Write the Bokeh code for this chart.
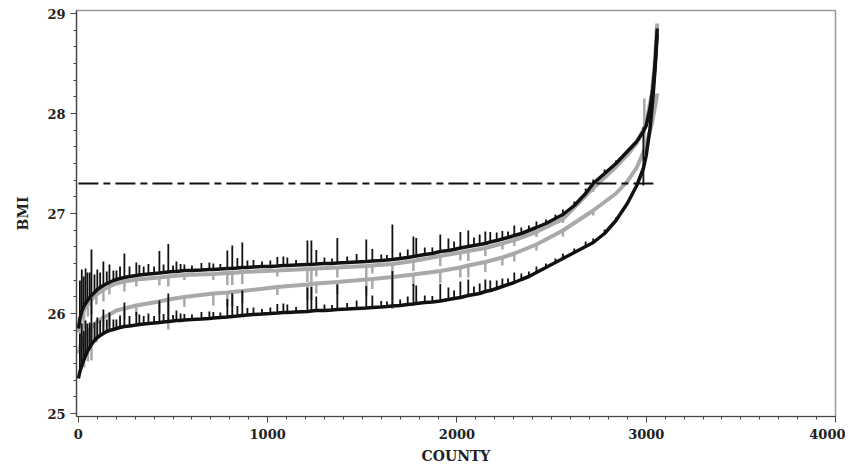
import numpy as np
from bokeh.plotting import figure
from bokeh.models import Range1d, FixedTicker
from bokeh.embed import file_html
from bokeh.resources import INLINE

# ---------------- data ----------------
county = [0, 8, 18, 28, 38, 48, 60, 69, 85, 100, 115, 132, 150, 164, 185, 201, 220, 243, 270, 306,
          322, 345, 370, 400, 428, 450, 475, 500, 518, 540, 560, 600, 650, 692, 713, 750, 787, 813, 840, 866,
          893, 925, 970, 1014, 1051, 1083, 1104, 1150, 1210, 1231, 1257, 1300, 1340, 1368, 1420, 1470, 1521, 1553, 1600, 1630,
          1659, 1700, 1740, 1770, 1785, 1830, 1870, 1912, 1955, 1985, 2018, 2060, 2090, 2120, 2150, 2176, 2210, 2240, 2270, 2303,
          2340, 2380, 2420, 2470, 2520, 2560, 2620, 2680, 2720, 2780, 2840, 2900, 2950, 2985, 3000, 3020, 3035, 3045, 3052, 3058]
upper_base = [25.85, 25.95, 26.02, 26.07, 26.10, 26.13, 26.16, 26.18, 26.21, 26.24, 26.26, 26.28, 26.30, 26.31, 26.33, 26.34, 26.35, 26.36, 26.37, 26.38,
              26.385, 26.39, 26.395, 26.40, 26.405, 26.41, 26.415, 26.42, 26.42, 26.425, 26.43, 26.43, 26.435, 26.44, 26.44, 26.445, 26.45, 26.45, 26.455, 26.46,
              26.46, 26.465, 26.47, 26.47, 26.475, 26.48, 26.48, 26.485, 26.49, 26.49, 26.495, 26.50, 26.50, 26.505, 26.51, 26.515, 26.52, 26.525, 26.53, 26.535,
              26.54, 26.55, 26.56, 26.57, 26.575, 26.59, 26.60, 26.62, 26.63, 26.64, 26.655, 26.67, 26.68, 26.69, 26.70, 26.715, 26.73, 26.745, 26.76, 26.78,
              26.80, 26.83, 26.86, 26.90, 26.95, 26.99, 27.08, 27.20, 27.30, 27.40, 27.50, 27.62, 27.72, 27.82, 27.88, 28.05, 28.25, 28.45, 28.65, 28.85]
lower_base = [25.35, 25.42, 25.48, 25.53, 25.58, 25.62, 25.66, 25.69, 25.73, 25.76, 25.78, 25.80, 25.82, 25.83, 25.84, 25.85, 25.86, 25.87, 25.875, 25.885,
              25.89, 25.895, 25.90, 25.905, 25.91, 25.915, 25.92, 25.925, 25.93, 25.93, 25.935, 25.94, 25.945, 25.95, 25.955, 25.96, 25.965, 25.97, 25.975, 25.98,
              25.985, 25.99, 25.995, 26.00, 26.005, 26.01, 26.01, 26.015, 26.02, 26.025, 26.03, 26.03, 26.035, 26.04, 26.045, 26.05, 26.055, 26.06, 26.065, 26.07,
              26.075, 26.08, 26.09, 26.095, 26.10, 26.11, 26.115, 26.125, 26.14, 26.15, 26.16, 26.18, 26.19, 26.20, 26.22, 26.23, 26.25, 26.27, 26.29, 26.31,
              26.34, 26.37, 26.41, 26.46, 26.51, 26.55, 26.61, 26.67, 26.71, 26.80, 26.93, 27.10, 27.28, 27.45, 27.58, 27.85, 28.15, 28.40, 28.60, 28.80]
black_rise = [0, 0.38, 0.42, 0.30, 0.35, 0.28, 0.25, 0.46, 0.18, 0.20, 0.15, 0.24, 0.12, 0.18, 0.10, 0.09, 0.12, 0.24, 0.10, 0.13,
              0.10, 0.08, 0.10, 0.07, 0.22, 0.08, 0.28, 0.06, 0.10, 0.07, 0.06, 0.05, 0.07, 0.07, 0.06, 0.05, 0.18, 0.23, 0.10, 0.25,
              0.07, 0.07, 0.05, 0.06, 0.09, 0.09, 0.08, 0.05, 0.24, 0.24, 0.14, 0.06, 0.05, 0.25, 0.06, 0.08, 0.22, 0.12, 0.06, 0.05,
              0.35, 0.06, 0.08, 0.20, 0.18, 0.07, 0.06, 0.17, 0.12, 0.08, 0.16, 0.16, 0.08, 0.10, 0.12, 0.10, 0.08, 0.08, 0.06, 0.10,
              0.06, 0.05, 0.06, 0.04, 0.04, 0.05, 0.04, 0.05, 0.04, 0.04, 0.03, 0, 0, 0, 0, 0, 0, 0, 0, 0]

grey_county = [0, 12, 30, 50, 69, 95, 132, 164, 200, 243, 306, 428, 475, 560, 713, 787, 813, 866, 1051, 1210,
               1231, 1257, 1368, 1521, 1553, 1659, 1770, 1912, 2018, 2060, 2150, 2240, 2303, 2420, 2560, 2720, 2840, 2900, 2950, 3000,
               3030, 3045, 3058]
grey_hi_base = [25.81, 25.94, 26.04, 26.09, 26.14, 26.19, 26.24, 26.27, 26.30, 26.32, 26.34, 26.36, 26.37, 26.385, 26.395, 26.405, 26.405, 26.415, 26.43, 26.445,
                26.445, 26.45, 26.46, 26.475, 26.48, 26.495, 26.525, 26.575, 26.61, 26.625, 26.655, 26.70, 26.735, 26.815, 26.945, 27.255, 27.465, 27.585, 27.705, 27.90,
                28.20, 28.50, 28.90]
grey_lo_base = [25.60, 25.68, 25.76, 25.82, 25.86, 25.91, 25.96, 25.99, 26.03, 26.05, 26.08, 26.12, 26.14, 26.165, 26.20, 26.21, 26.215, 26.225, 26.265, 26.29,
                26.295, 26.30, 26.315, 26.34, 26.345, 26.365, 26.39, 26.425, 26.46, 26.48, 26.515, 26.56, 26.60, 26.69, 26.83, 27.03, 27.20, 27.32, 27.46, 27.68,
                27.90, 28.05, 28.20]
grey_drop_hi = [0, 0.20, 0.20, 0.12, 0.15, 0.10, 0.12, 0.08, 0, 0.10, 0.07, 0.08, 0.10, 0.05, 0.06, 0.12, 0.12, 0.12, 0.06, 0.13,
                0.13, 0.08, 0.10, 0.14, 0.08, 0.15, 0.10, 0.10, 0.08, 0.10, 0.08, 0.06, 0.06, 0.05, 0.04, 0.04, 0, 0, 0, 0,
                0, 0, 0]
grey_drop_lo = [0, 0.25, 0.30, 0.30, 0.33, 0.20, 0.15, 0.12, 0, 0.10, 0.10, 0.12, 0.30, 0.10, 0.12, 0.14, 0.14, 0.12, 0.08, 0.16,
                0.16, 0.10, 0.12, 0.16, 0.10, 0.32, 0.12, 0.12, 0.10, 0.12, 0.10, 0.08, 0.08, 0.06, 0.06, 0.05, 0, 0, 0, 0,
                0, 0, 0]

# isolated spikes near the right end
end_black_county = [2985]
end_black_from = [27.28]
end_black_to = [27.86]
end_grey_county = [2990]
end_grey_from = [27.70]
end_grey_to = [28.15]

# reference line (dash-dot)
ref_x = [0, 3045]
ref_y = [27.3, 27.3]

x_ticks = [0, 1000, 2000, 3000, 4000]
y_ticks = [25, 26, 27, 28, 29]

BLACK = "#111111"
GREY = "#a9a9a9"
FONT = "DejaVu Serif"

p = figure(width=845, height=468, output_backend="svg", toolbar_location=None,
           x_range=Range1d(-10, 4000), y_range=Range1d(24.97, 29.03),
           min_border_left=76, min_border_right=10, min_border_top=10, min_border_bottom=52)
p.grid.visible = False
p.outline_line_color = "#9a9a9a"
p.outline_line_width = 1.5

# grey series
gc = np.array(grey_county)
ghi = np.array(grey_hi_base)
glo = np.array(grey_lo_base)
dhi = np.array(grey_drop_hi)
dlo = np.array(grey_drop_lo)
p.line(gc, ghi, line_color=GREY, line_width=4)
p.line(gc, glo, line_color=GREY, line_width=4)
m = dhi > 0
p.segment(x0=gc[m], y0=ghi[m], x1=gc[m], y1=ghi[m] - dhi[m], line_color=GREY, line_width=2.5)
m = dlo > 0
p.segment(x0=gc[m], y0=glo[m], x1=gc[m], y1=glo[m] - dlo[m], line_color=GREY, line_width=2.5)
p.segment(x0=end_grey_county, y0=end_grey_from, x1=end_grey_county, y1=end_grey_to, line_color=GREY, line_width=2.5)

# black series
c = np.array(county)
ub = np.array(upper_base)
lb = np.array(lower_base)
r = np.array(black_rise)
p.line(c, ub, line_color=BLACK, line_width=3.5)
p.line(c, lb, line_color=BLACK, line_width=3.5)
m = r > 0
p.segment(x0=c[m], y0=ub[m], x1=c[m], y1=ub[m] + r[m], line_color=BLACK, line_width=1.8)
p.segment(x0=c[m], y0=lb[m], x1=c[m], y1=lb[m] + r[m], line_color=BLACK, line_width=1.8)
p.segment(x0=end_black_county, y0=end_black_from, x1=end_black_county, y1=end_black_to, line_color=BLACK, line_width=1.8)

# reference line
p.line(ref_x, ref_y, line_color=BLACK, line_width=2, line_dash="20 5 7 5")

# axes
p.xaxis.ticker = FixedTicker(ticks=x_ticks, minor_ticks=list(range(0, 4001, 100)))
p.yaxis.ticker = FixedTicker(ticks=y_ticks, minor_ticks=[25 + i / 6 for i in range(25)])
for ax in (p.xaxis, p.yaxis):
    ax.axis_line_color = "#444444"
    ax.axis_line_width = 1.2
    ax.major_tick_line_color = "#444444"
    ax.minor_tick_line_color = "#444444"
    ax.major_tick_out = 6
    ax.major_tick_in = 0
    ax.minor_tick_out = 3
    ax.minor_tick_in = 0
    ax.major_label_text_font = FONT
    ax.major_label_text_font_style = "bold"
    ax.major_label_text_font_size = "13px"
    ax.major_label_text_color = "#222222"
    ax.axis_label_text_font = FONT
    ax.axis_label_text_font_style = "bold"
    ax.axis_label_text_font_size = "14px"
    ax.axis_label_text_color = "#222222"
p.xaxis.axis_label = "COUNTY"
p.yaxis.axis_label = "BMI"
p.xaxis.major_label_standoff = 6
p.xaxis.axis_label_standoff = 6
p.yaxis.major_label_standoff = 5
p.yaxis.axis_label_standoff = 13

open("out.html", "w").write(file_html(p, INLINE))
